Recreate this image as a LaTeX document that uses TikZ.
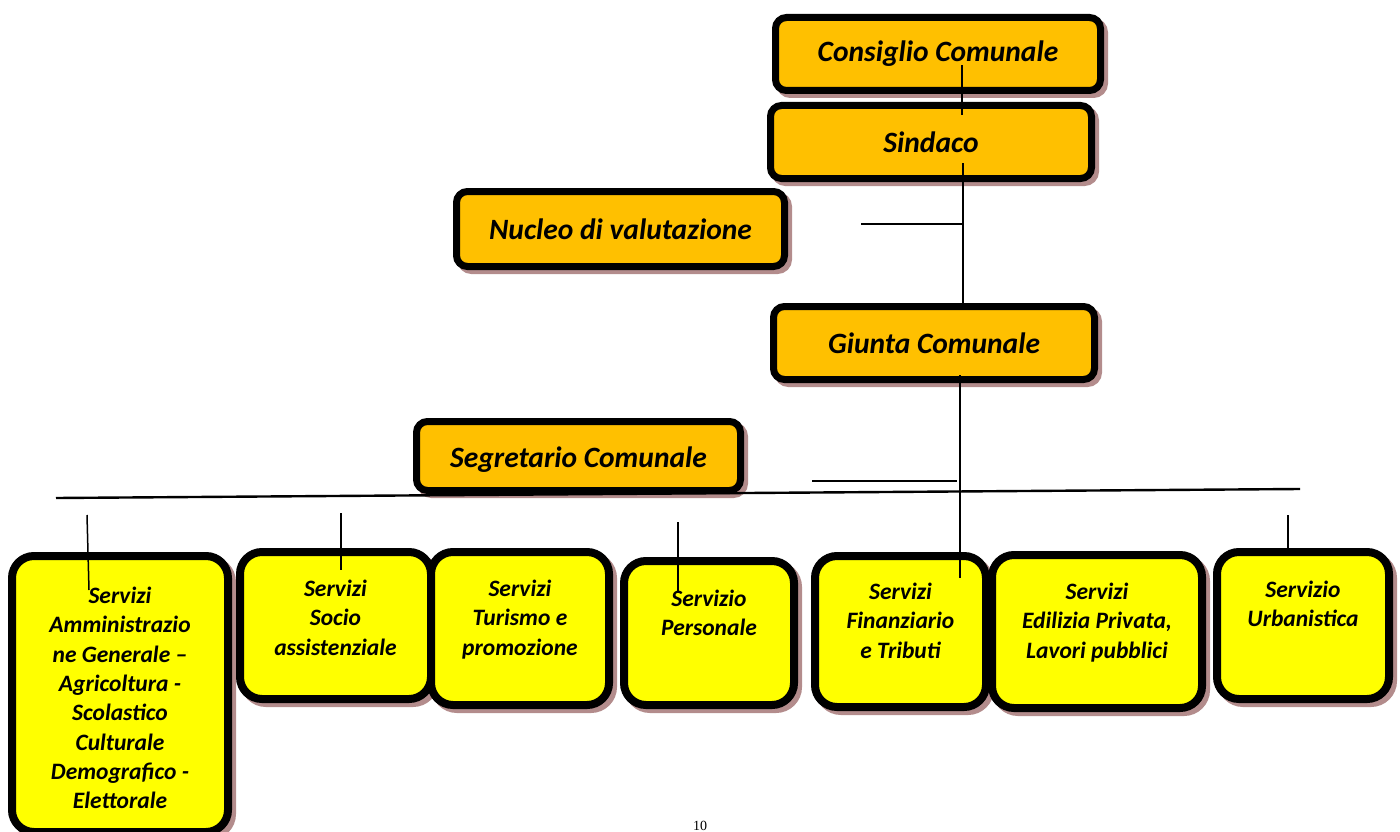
\documentclass[tikz,border=0pt]{standalone}
\usepackage{fontspec}
\setmainfont{Carlito}
\newfontfamily\pagefont{Liberation Serif}
\usetikzlibrary{shadows}

\definecolor{orgorange}{HTML}{FFC000}
\definecolor{orgyellow}{HTML}{FFFF00}
\definecolor{orgshadow}{HTML}{B38C8C}

\tikzset{
  orgshade/.style={general shadow={draw=orgshadow, fill=orgshadow, line width=#1, shadow xshift=4pt, shadow yshift=-4pt}},
  topbox/.style={draw, line width=7pt, rounded corners=11pt, fill=orgorange, orgshade=7pt,
    font=\fontsize{29.5}{33}\selectfont\bfseries\itshape, inner sep=0pt},
  svcbox/.style={draw, line width=8pt, rounded corners=22pt, fill=orgyellow, orgshade=8pt, inner sep=0pt},
  svclabel/.style={anchor=north, align=center, inner sep=0pt,
    font=\fontsize{23.5}{29.3}\selectfont\bfseries\itshape},
  conn/.style={line width=1.5pt},
  bus/.style={line width=2.4pt}
}

\begin{document}
\begin{tikzpicture}[x=1pt, y=-1pt]
    \useasboundingbox (0,0) rectangle (1400,832);
    % Nodes
    \node[topbox, minimum width=325pt, minimum height=73pt] (CC) at (938,54) {Consiglio Comunale};
    \node[topbox, minimum width=321pt, minimum height=73pt] (S) at (931,142) {Sindaco};
    \node[topbox, minimum width=328pt, minimum height=75pt] (NV) at (620.5,229) {Nucleo di valutazione};
    \node[topbox, minimum width=321pt, minimum height=73pt] (GC) at (934,343) {Giunta Comunale};
    \node[topbox, minimum width=324pt, minimum height=69pt, text height=27pt, text depth=5pt] (SC) at (578.5,456) {Segretario Comunale};

    \node[svcbox, minimum width=216pt, minimum height=276pt, label={[svclabel, label distance=-35pt]90:Servizi\\Amministrazio\\ne Generale –\\Agricoltura -\\Scolastico\\Culturale\\Demografico -\\Elettorale}] (AG) at (120,694) {};
    \node[svcbox, minimum width=191pt, minimum height=147pt, label={[svclabel, label distance=-32pt]90:Servizi\\Socio\\assistenziale}] (SA) at (335.5,625.5) {};
    \node[svcbox, minimum width=178pt, minimum height=153pt, label={[svclabel, label distance=-32pt]90:Servizi\\Turismo e\\promozione}] (TP) at (520,628.5) {};
    \node[svcbox, minimum width=170pt, minimum height=144pt, label={[svclabel, label distance=-33pt]90:Servizio\\Personale}] (SP) at (709,633) {};
    \node[svcbox, minimum width=171pt, minimum height=151pt, label={[svclabel, label distance=-31pt]90:Servizi\\Finanziario\\e Tributi}] (FT) at (900.5,631.5) {};
    \node[svcbox, minimum width=210pt, minimum height=153pt, label={[svclabel, label distance=-32pt]90:Servizi\\Edilizia Privata,\\Lavori pubblici}] (EP) at (1097,631.5) {};
    \node[svcbox, minimum width=172pt, minimum height=147pt, label={[svclabel, label distance=-33pt]90:Servizio\\Urbanistica}] (UR) at (1303,625.5) {};

    \node[font=\pagefont\fontsize{14}{16}\selectfont, anchor=south, inner sep=0pt] (pg) at (700,831) {10};

    % Line ends
    \coordinate (cc1) at (962,65);   \coordinate (cc2) at (962,115);
    \coordinate (s1) at (963,163);   \coordinate (s2) at (963,310);
    \coordinate (nv1) at (861,224);  \coordinate (nv2) at (963,224);
    \coordinate (gc1) at (960,375);  \coordinate (gc2) at (960,578);
    \coordinate (sc1) at (812,481);  \coordinate (sc2) at (957,481);
    \coordinate (b1) at (56,498);    \coordinate (b2) at (1300,489);
    \coordinate (ag1) at (87,515);   \coordinate (ag2) at (89,590);
    \coordinate (sa1) at (341,513);  \coordinate (sa2) at (341,570);
    \coordinate (sp1) at (678,522);  \coordinate (sp2) at (678,593);
    \coordinate (ur1) at (1288,515); \coordinate (ur2) at (1288,548);

    % Edges
    \draw[conn] (cc1) -- (cc2);
    \draw[conn] (s1) -- (s2);
    \draw[conn] (nv1) -- (nv2);
    \draw[conn] (gc1) -- (gc2);
    \draw[conn] (sc1) -- (sc2);
    \draw[bus] (b1) -- (b2);
    \draw[conn] (ag1) -- (ag2);
    \draw[conn] (sa1) -- (sa2);
    \draw[conn] (sp1) -- (sp2);
    \draw[conn] (ur1) -- (ur2);
\end{tikzpicture}
\end{document}
